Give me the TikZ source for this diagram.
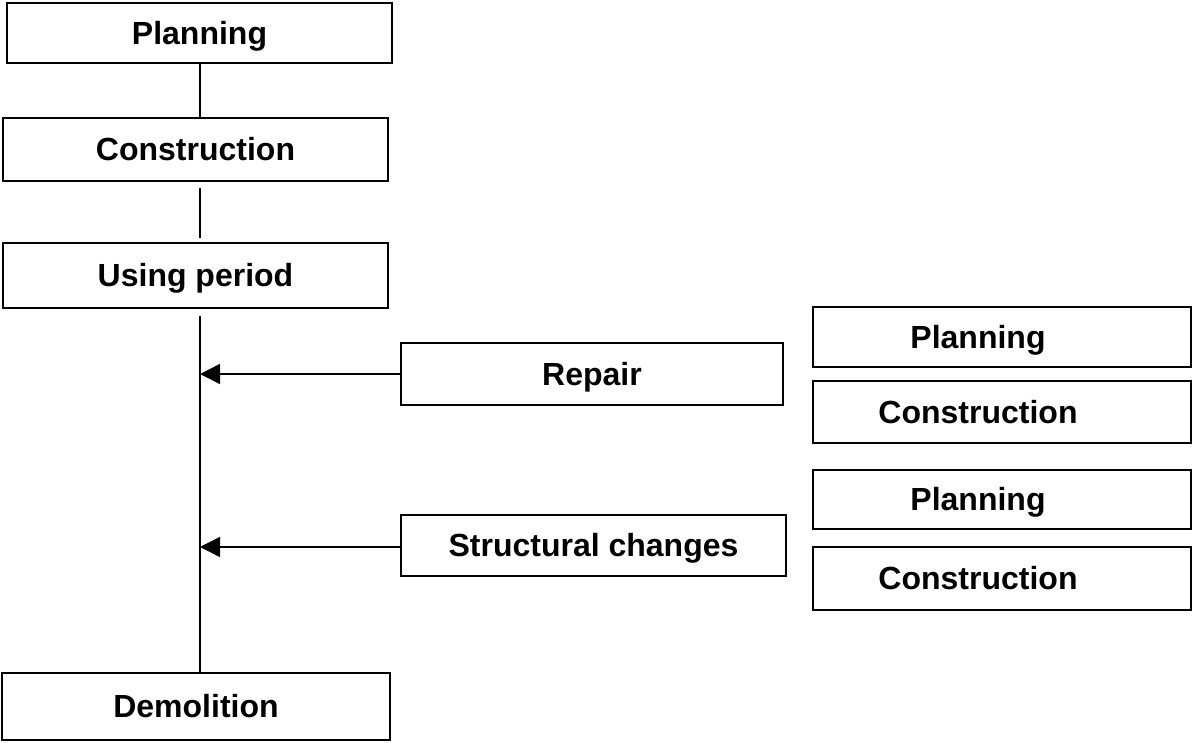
\documentclass[tikz,border=0pt]{standalone}
\usepackage{fontspec}
\setmainfont{Liberation Sans}
\usetikzlibrary{arrows.meta}
\begin{document}
\begin{tikzpicture}[x=1pt,y=-1pt,
  box/.style={draw, line width=1.5pt, rectangle, inner sep=0pt, text height=22.5pt, text depth=0pt, font=\fontsize{32}{38}\selectfont\bfseries},
  conn/.style={line width=1.5pt},
  arr/.style={line width=1.5pt, -{Triangle[length=20pt,width=20pt]}}]
\useasboundingbox (0,0) rectangle (1192,742);
\coordinate (sp) at (200,0);
% left column
\node[box, minimum width=385pt, minimum height=60pt] (P1) at (199.5,33) {Planning};
\node[box, minimum width=385pt, minimum height=63pt] (C1) at (195.5,149.5) {Construction};
\node[box, minimum width=385pt, minimum height=65pt] (U) at (195.5,275.5) {Using period};
\node[box, minimum width=388pt, minimum height=67pt] (D) at (196,706.5) {Demolition};
% middle column
\node[box, minimum width=382pt, minimum height=62pt] (R) at (592,374) {Repair};
\node[box, minimum width=385pt, minimum height=61pt] (S) at (593.5,545.5) {Structural changes};
% right column
\node[box, minimum width=378pt, minimum height=60pt] (RP1) at (1002,337) {\hspace*{-48pt}Planning};
\node[box, minimum width=378pt, minimum height=62pt] (RC1) at (1002,412) {\hspace*{-48pt}Construction};
\node[box, minimum width=378pt, minimum height=59pt] (RP2) at (1002,499.5) {\hspace*{-48pt}Planning};
\node[box, minimum width=378pt, minimum height=63pt] (RC2) at (1002,578.5) {\hspace*{-48pt}Construction};
% spine
\draw[conn] (P1.south -| sp) -- (C1.north -| sp);
\draw[conn] ([yshift=-6pt]C1.south -| sp) -- ([yshift=4pt]U.north -| sp);
\draw[conn] ([yshift=-7pt]U.south -| sp) -- (D.north -| sp);
% arrows
\draw[arr] (R.west) -- (R.west -| sp);
\draw[arr] ([yshift=-1.5pt]S.west) -- ([yshift=-1.5pt]S.west -| sp);
\end{tikzpicture}
\end{document}
